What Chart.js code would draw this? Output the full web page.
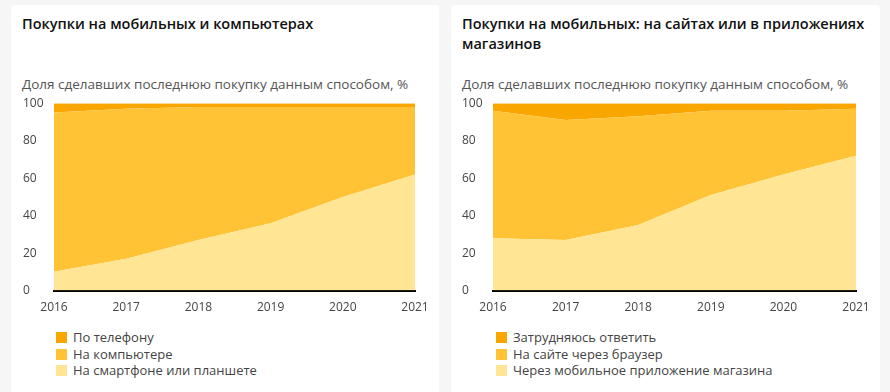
<!DOCTYPE html>
<html>
<head>
<meta charset="utf-8">
<script src="https://cdn.jsdelivr.net/npm/chart.js@4"></script>
<style>
  body { margin: 0; background: #f6f6f6; font-family: "Open Sans", sans-serif; width: 890px; height: 392px; overflow: hidden; position: relative; }
  .card { position: absolute; top: 5px; height: 400px; background: #fff; border-radius: 4px; }
  .title { position: absolute; font-size: 14.5px; font-weight: 600; line-height: 20px; color: #111; }
  .sub { position: absolute; font-size: 13.5px; line-height: 18px; color: #555; white-space: nowrap; }
  .box { position: absolute; }
  .legend { position: absolute; font-size: 13px; color: #444; }
  .legend div { height: 16.5px; line-height: 16.5px; white-space: nowrap; }
  .legend span { display: inline-block; width: 11px; height: 11px; margin-right: 6px; vertical-align: -1px; }
</style>
</head>
<body>
<div class="card" style="left:11px;width:428px"></div>
<div class="card" style="left:451px;width:429px"></div>

<div class="title" style="left:22px;top:14px;width:400px">Покупки на мобильных и компьютерах</div>
<div class="title" style="left:462px;top:14px;width:412px">Покупки на мобильных: на сайтах или в приложениях магазинов</div>
<div class="sub" style="left:22px;top:75px">Доля сделавших последнюю покупку данным способом, %</div>
<div class="sub" style="left:462px;top:75px">Доля сделавших последнюю покупку данным способом, %</div>

<div class="box" style="left:11px;top:96px;width:428px;height:221px"><canvas id="c1"></canvas></div>
<div class="box" style="left:451px;top:96px;width:429px;height:221px"><canvas id="c2"></canvas></div>

<div class="legend" id="l1" style="left:56px;top:329px"></div>
<div class="legend" id="l2" style="left:496px;top:329px"></div>

<script>
// годы
const годы = ['2016', '2017', '2018', '2019', '2020', '2021'];
const деленияY = [0, 20, 40, 60, 80, 100];

// левый график: покупки на мобильных и компьютерах
const смартфон = [10, 17, 27, 36, 50, 62];
const компьютер = [85, 80, 71, 62, 48, 36];
const телефон = [5, 3, 2, 2, 2, 2];
const подписи1 = ['На смартфоне или планшете', 'На компьютере', 'По телефону'];

// правый график: сайты или приложения
const приложение = [28, 27, 35, 51, 62, 72];
const браузер = [68, 64, 58, 45, 34, 25];
const затрудняюсь = [4, 9, 7, 4, 4, 3];
const подписи2 = ['Через мобильное приложение магазина', 'На сайте через браузер', 'Затрудняюсь ответить'];

const цвета = ['#FFE594', '#FFC335', '#FAA600'];

function сделатьГрафик(id, ряды, подписи, отступСлева) {
    const ctx = document.getElementById(id).getContext('2d');
    return new Chart(ctx, {
        type: 'line',
        data: {
            labels: годы,
            datasets: ряды.map((r, i) => ({
                label: подписи[i],
                data: r,
                backgroundColor: цвета[i],
                borderWidth: 0,
                pointRadius: 0,
                fill: i === 0 ? 'origin' : '-1',
                tension: 0
            }))
        },
        options: {
            responsive: true,
            maintainAspectRatio: false,
            animation: false,
            layout: { padding: { left: отступСлева, right: 24, top: 4, bottom: 0 } },
            plugins: { legend: { display: false }, tooltip: { enabled: false } },
            scales: {
                x: {
                    offset: false,
                    grid: { display: false },
                    border: { color: '#000', width: 2 },
                    ticks: { color: '#444', font: { family: 'Open Sans', size: 12 }, maxRotation: 0, padding: 2 }
                },
                y: {
                    stacked: true,
                    min: 0,
                    max: 100,
                    afterBuildTicks: s => { s.ticks = деленияY.map(v => ({ value: v })); },
                    afterFit: s => { s.width = 31; },
                    grid: { display: false },
                    border: { display: false },
                    ticks: { color: '#444', font: { family: 'Open Sans', size: 12 }, crossAlign: 'far', padding: 0 }
                }
            }
        }
    });
}

сделатьГрафик('c1', [смартфон, компьютер, телефон], подписи1, 12);
сделатьГрафик('c2', [приложение, браузер, затрудняюсь], подписи2, 11);

// легенда: сверху вниз в обратном порядке
function легенда(id, подписи) {
    const el = document.getElementById(id);
    for (let i = подписи.length - 1; i >= 0; i--) {
        const d = document.createElement('div');
        d.innerHTML = `<span style="background:${цвета[i]}"></span>${подписи[i]}`;
        el.appendChild(d);
    }
}
легенда('l1', подписи1);
легенда('l2', подписи2);
</script>
</body>
</html>
